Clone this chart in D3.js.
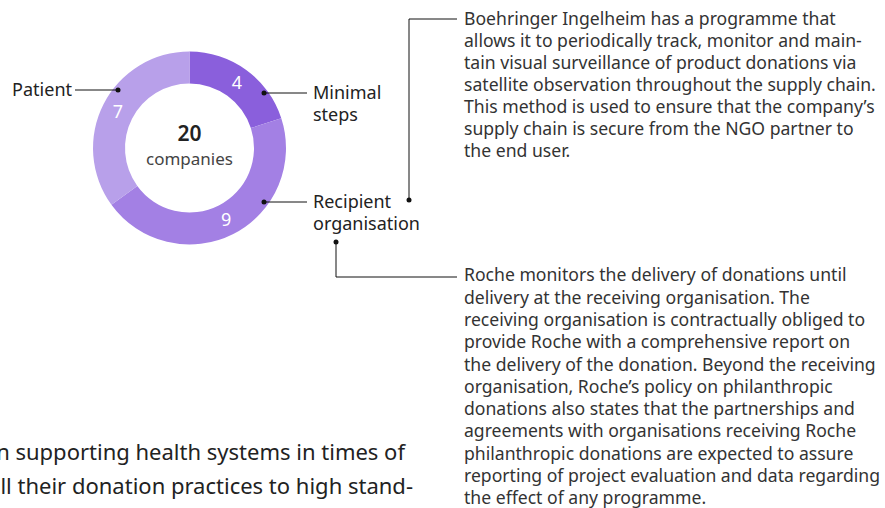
<!DOCTYPE html>
<meta charset="utf-8">
<script src="https://d3js.org/d3.v7.js"></script>
<style>
  body { margin: 0; background: #fff; }
  svg text { font-family: "Noto Sans", sans-serif; }
</style>
<body>
<div id="my_dataviz"></div>
<script>
  const width = 885, height = 508;

  // data
  const categories = ["Minimal steps", "Recipient organisation", "Patient"];
  const values = [4, 9, 7];
  const colors = ["#8a5fdc", "#a380e4", "#b8a0ea"];
  const total = 20;
  const totalLabel = "companies";

  const boehringerText = [
    "Boehringer Ingelheim has a programme that",
    "allows it to periodically track, monitor and main-",
    "tain visual surveillance of product donations via",
    "satellite observation throughout the supply chain.",
    "This method is used to ensure that the company’s",
    "supply chain is secure from the NGO partner to",
    "the end user."
  ];
  const rocheText = [
    "Roche monitors the delivery of donations until",
    "delivery at the receiving organisation. The",
    "receiving organisation is contractually obliged to",
    "provide Roche with a comprehensive report on",
    "the delivery of the donation. Beyond the receiving",
    "organisation, Roche’s policy on philanthropic",
    "donations also states that the partnerships and",
    "agreements with organisations receiving Roche",
    "philanthropic donations are expected to assure",
    "reporting of project evaluation and data regarding",
    "the effect of any programme."
  ];
  const bodyText = [
    "in supporting health systems in times of",
    "all their donation practices to high stand-"
  ];

  const cx = 189.5, cy = 148,
        outerR = 96.5, innerR = 64.5;

  const svg = d3.select("#my_dataviz")
    .append("svg")
      .attr("width", width)
      .attr("height", height);

  const g = svg.append("g")
      .attr("transform", `translate(${cx}, ${cy})`);

  const pie = d3.pie().sort(null).value(d => d[1]);
  const data_ready = pie(d3.zip(categories, values));

  const arc = d3.arc().innerRadius(innerR).outerRadius(outerR);

  g.selectAll("path.slice")
    .data(data_ready)
    .join("path")
      .attr("class", "slice")
      .attr("d", arc)
      .attr("fill", (d, i) => colors[i]);

  // value labels in the ring
  g.selectAll("text.val")
    .data(data_ready)
    .join("text")
      .attr("class", "val")
      .attr("transform", d => `translate(${arc.centroid(d)})`)
      .attr("text-anchor", "middle")
      .attr("dy", "0.36em")
      .attr("fill", "#fff")
      .style("font-size", "18px")
      .text(d => d.data[1]);

  // centre
  g.append("text")
    .attr("y", -15)
    .attr("dy", "0.36em")
    .attr("text-anchor", "middle")
    .attr("fill", "#222")
    .style("font-size", "21px")
    .style("font-weight", "600")
    .text(total);
  g.append("text")
    .attr("y", 11)
    .attr("dy", "0.36em")
    .attr("text-anchor", "middle")
    .attr("fill", "#444")
    .style("font-size", "17px")
    .text(totalLabel);

  const ink = "#111";

  // slice callouts
  const callouts = [
    { dot: [264, 93], end: [307, 93], text: ["Minimal", "steps"], x: 313, anchor: "start" },
    { dot: [264, 202], end: [307, 202], text: ["Recipient", "organisation"], x: 313, anchor: "start" },
    { dot: [118, 90], end: [75, 90], text: ["Patient"], x: 72, anchor: "end" }
  ];
  callouts.forEach(c => {
    svg.append("line")
      .attr("x1", c.dot[0]).attr("y1", c.dot[1])
      .attr("x2", c.end[0]).attr("y2", c.end[1])
      .attr("stroke", ink).attr("stroke-width", 1);
    svg.append("circle")
      .attr("cx", c.dot[0]).attr("cy", c.dot[1]).attr("r", 2.5)
      .attr("fill", ink);
    c.text.forEach((t, j) => {
      svg.append("text")
        .attr("x", c.x)
        .attr("y", c.dot[1] + j * 22)
        .attr("dy", "0.36em")
        .attr("text-anchor", c.anchor)
        .attr("fill", "#222")
        .style("font-size", "18px")
        .text(t);
    });
  });

  // connectors to notes
  const line = d3.line();
  svg.append("path")
    .attr("d", line([[409, 200], [409, 19], [457, 19]]))
    .attr("fill", "none").attr("stroke", ink);
  svg.append("circle").attr("cx", 409).attr("cy", 200).attr("r", 2.5).attr("fill", ink);

  svg.append("path")
    .attr("d", line([[336, 242], [336, 277], [457, 277]]))
    .attr("fill", "none").attr("stroke", ink);
  svg.append("circle").attr("cx", 336).attr("cy", 242).attr("r", 2.5).attr("fill", ink);

  function block(lines, x, y0, lh, size, color) {
    svg.append("g").selectAll("text")
      .data(lines)
      .join("text")
        .attr("x", x)
        .attr("y", (d, i) => y0 + i * lh)
        .attr("dy", "0.36em")
        .attr("fill", color)
        .style("font-size", size + "px")
        .text(d => d);
  }
  block(boehringerText, 464, 19, 22, 17.6, "#333");
  block(rocheText, 464, 275, 22.3, 17.6, "#333");

  // body text, cut off at the left edge as in the original page
  svg.append("g").selectAll("text")
    .data(bodyText)
    .join("text")
      .attr("x", (d, i) => [405, 413][i])
      .attr("y", (d, i) => 452 + i * 34)
      .attr("dy", "0.36em")
      .attr("text-anchor", "end")
      .attr("fill", "#222")
      .style("font-size", "22px")
      .text(d => d);
</script>
</body>
